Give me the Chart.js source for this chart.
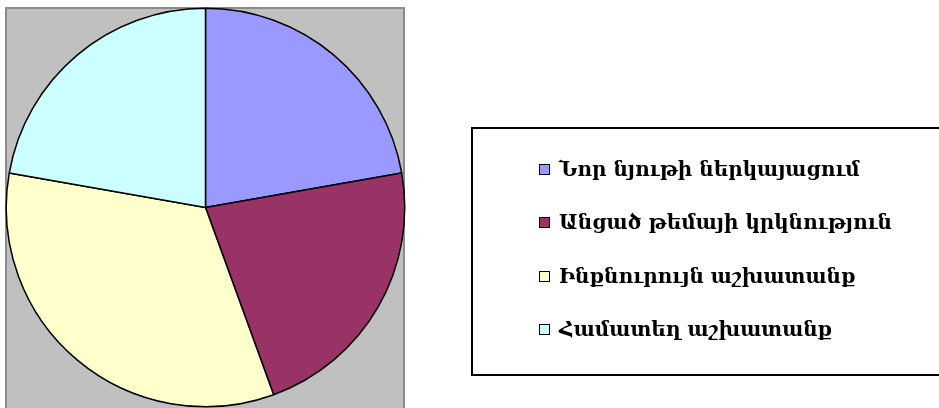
<!DOCTYPE html>
<html>
<head>
<meta charset="utf-8">
<script src="https://cdn.jsdelivr.net/npm/chart.js@4/dist/chart.umd.min.js"></script>
<style>
  html, body { margin: 0; padding: 0; background: #ffffff; }
  #wrap { position: relative; width: 939px; height: 408px; overflow: hidden; }
  #c { position: absolute; left: 0; top: 0; }
  #legend {
    position: absolute; left: 471px; top: 127px; width: 480px; height: 245px;
    border: 2px solid #000; box-sizing: content-box;
  }
  .item { position: absolute; left: 66px; height: 24px; display: flex; align-items: center;
    font-family: "DejaVu Serif", serif; font-size: 20px; font-weight: bold; color: #000; white-space: nowrap; }
  .sw { width: 9px; height: 9px; border: 1.5px solid #000; margin-right: 9px; flex: none; }
</style>
</head>
<body>
<div id="wrap">
  <canvas id="c" width="939" height="408"></canvas>
  <div id="legend"></div>
</div>
<script>
const categories = [
  "Նոր նյութի ներկայացում",
  "Անցած թեմայի կրկնություն",
  "Ինքնուրույն աշխատանք",
  "Համատեղ աշխատանք"
];
const values = [2, 2, 3, 2];
const colors = ["#9999FF", "#993366", "#FFFFCC", "#CCFFFF"];

const plotBg = {
  id: 'plotBg',
  beforeDraw(chart) {
    const ctx = chart.ctx;
    ctx.save();
    ctx.fillStyle = '#C0C0C0';
    ctx.fillRect(6, 8, 398, 410);
    ctx.strokeStyle = '#8a8a8a';
    ctx.lineWidth = 2;
    ctx.strokeRect(6, 8, 398, 410);
    ctx.restore();
  }
};

new Chart(document.getElementById('c'), {
  type: 'pie',
  data: {
    labels: categories,
    datasets: [{
      data: values,
      backgroundColor: colors,
      borderColor: '#000000',
      borderWidth: 1.5
    }]
  },
  options: {
    responsive: false,
    animation: false,
    layout: { padding: { left: 5.5, top: 7.5, right: 533.5, bottom: 0.5 } },
    plugins: { legend: { display: false }, tooltip: { enabled: false } }
  },
  plugins: [plotBg]
});

const legend = document.getElementById('legend');
const rowCenters = [40, 93, 147, 200];
categories.forEach((lab, i) => {
  const it = document.createElement('div');
  it.className = 'item';
  it.style.top = (rowCenters[i] - 12) + 'px';
  const sw = document.createElement('span');
  sw.className = 'sw';
  sw.style.background = colors[i];
  const tx = document.createElement('span');
  tx.textContent = lab;
  it.appendChild(sw);
  it.appendChild(tx);
  legend.appendChild(it);
});
</script>
</body>
</html>
